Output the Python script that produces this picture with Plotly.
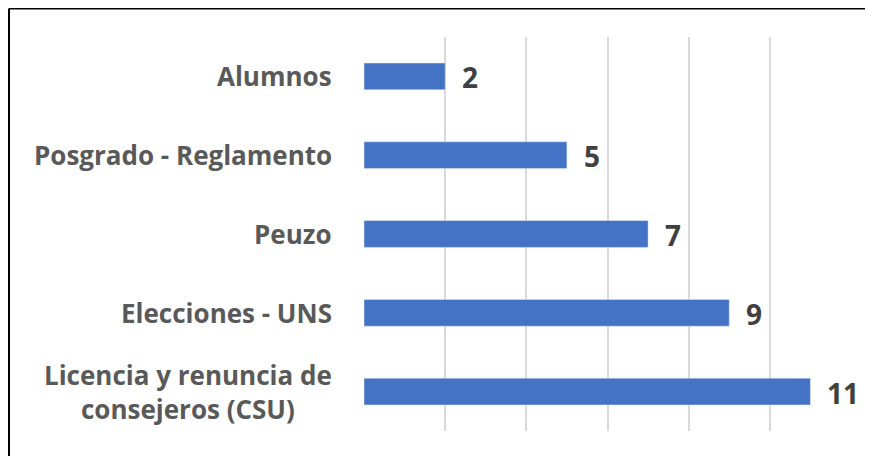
import plotly.graph_objects as go

categorias = [
    "Alumnos",
    "Posgrado - Reglamento",
    "Peuzo",
    "Elecciones - UNS",
    "Licencia y renuncia de<br>consejeros (CSU)",
]
valores = [2, 5, 7, 9, 11]

# la pagina tiene 8px de margen en el body
W, H = 865, 448
ML, MR, MT, MB = 356, 22, 29, 25
pw, ph = W - ML - MR, H - MT - MB

FONT = "Open Sans"

fig = go.Figure(go.Bar(
    y=categorias, x=valores, orientation="h",
    marker_color="#4472C4", width=0.34,
    hoverinfo="skip",
))

# etiquetas de datos
for c, v in zip(categorias, valores):
    fig.add_annotation(
        x=v, xref="x", y=c, yref="y", xanchor="left", xshift=15, yshift=-1,
        text=str(v), showarrow=False,
        font=dict(family=FONT, size=28, color="#404040", weight="bold"),
    )

# etiquetas de categoria centradas (como en Excel)
for c in categorias:
    fig.add_annotation(
        x=0, xref="paper", y=c, yref="y", xanchor="right", xshift=-30,
        text=c, showarrow=False, align="center",
        font=dict(family=FONT, size=26, color="#595959", weight="bold"),
    )

# marco del grafico (solo se ve arriba e izquierda)
x0 = -(ML - 1) / pw
y0 = (H - MB - 0.5) / ph
fig.add_shape(type="line", xref="paper", yref="paper", x0=x0, x1=2, y0=y0, y1=y0,
              line=dict(color="black", width=2))
fig.add_shape(type="line", xref="paper", yref="paper", x0=x0, x1=x0, y0=y0, y1=-1,
              line=dict(color="black", width=2))

fig.update_layout(
    width=W, height=H,
    margin=dict(l=ML, r=MR, t=MT, b=MB),
    plot_bgcolor="white", paper_bgcolor="white",
    showlegend=False,
)
fig.update_xaxes(range=[0, 12], dtick=2, showgrid=True, gridcolor="#D9D9D9",
                 gridwidth=1.5, showticklabels=False, zeroline=False)
fig.update_yaxes(autorange="reversed", showticklabels=False, showgrid=False)

fig.write_html("out.html")
